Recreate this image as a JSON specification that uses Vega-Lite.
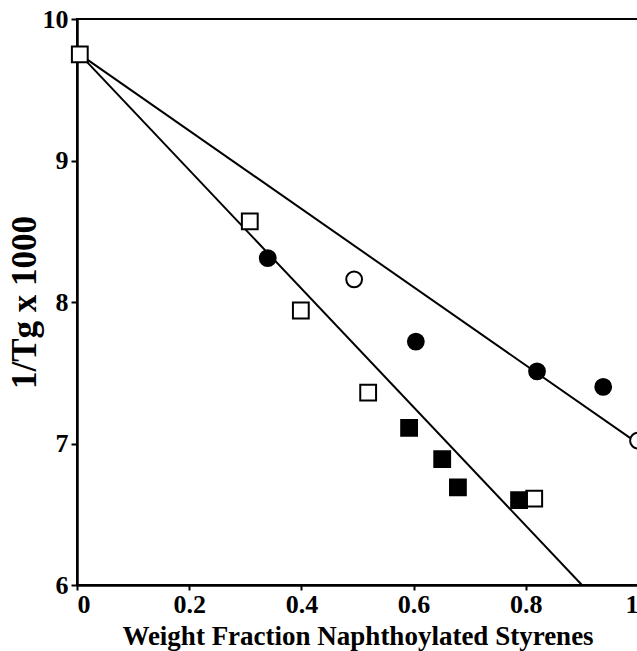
{
  "$schema": "https://vega.github.io/schema/vega-lite/v6.json",
  "autosize": "none",
  "padding": {"left": 77, "top": 19, "right": 0, "bottom": 66},
  "width": 561,
  "height": 566,
  "background": "white",
  "config": {
    "view": {"stroke": "black", "strokeWidth": 2},
    "font": "Liberation Serif",
    "axis": {
      "domainColor": "black", "domainWidth": 2.5, "tickColor": "black", "tickWidth": 2,
      "labelFont": "Liberation Serif", "labelFontWeight": "bold", "labelColor": "black",
      "titleFont": "Liberation Serif", "titleFontWeight": "bold", "titleColor": "black",
      "grid": false
    }
  },
  "datasets": {
    "pts": [
      {"x": 0.005, "y": 9.75, "series": "open square"},
      {"x": 0.308, "y": 8.57, "series": "open square"},
      {"x": 0.399, "y": 7.94, "series": "open square"},
      {"x": 0.519, "y": 7.36, "series": "open square"},
      {"x": 0.815, "y": 6.61, "series": "open square"},
      {"x": 0.340, "y": 8.31, "series": "filled circle"},
      {"x": 0.604, "y": 7.72, "series": "filled circle"},
      {"x": 0.820, "y": 7.51, "series": "filled circle"},
      {"x": 0.938, "y": 7.40, "series": "filled circle"},
      {"x": 0.494, "y": 8.16, "series": "open circle"},
      {"x": 1.0, "y": 7.02, "series": "open circle"},
      {"x": 0.592, "y": 7.11, "series": "filled square"},
      {"x": 0.651, "y": 6.89, "series": "filled square"},
      {"x": 0.679, "y": 6.69, "series": "filled square"},
      {"x": 0.788, "y": 6.60, "series": "filled square"}
    ],
    "lines": [
      {"x": 0.005, "y": 9.75, "line": "upper"},
      {"x": 1.0, "y": 7.0, "line": "upper"},
      {"x": 0.005, "y": 9.75, "line": "lower"},
      {"x": 0.9, "y": 6.0, "line": "lower"}
    ]
  },
  "layer": [
    {
      "data": {"name": "lines"},
      "mark": {"type": "line", "color": "black", "strokeWidth": 2, "clip": true},
      "encoding": {
        "x": {"field": "x", "type": "quantitative", "scale": {"domain": [0, 1], "nice": false},
          "axis": {"values": [0, 0.2, 0.4, 0.6, 0.8, 1], "format": "~g", "labelFontSize": 26, "labelPadding": 1, "tickSize": 5,
            "title": "Weight Fraction Naphthoylated Styrenes", "titleFontSize": 27, "titlePadding": 6}},
        "y": {"field": "y", "type": "quantitative", "scale": {"domain": [6, 10], "nice": false, "zero": false},
          "axis": {"values": [6, 7, 8, 9, 10], "format": "d", "labelFontSize": 26, "labelPadding": 3, "tickSize": 6,
            "title": "1/Tg x 1000", "titleFontSize": 35, "titlePadding": 0}},
        "detail": {"field": "line"}
      }
    },
    {
      "data": {"name": "pts"},
      "mark": {"type": "point", "size": 250, "strokeWidth": 2, "opacity": 1, "stroke": "black"},
      "encoding": {
        "x": {"field": "x", "type": "quantitative"},
        "y": {"field": "y", "type": "quantitative"},
        "shape": {"field": "series", "type": "nominal",
          "scale": {"domain": ["open square", "filled square", "open circle", "filled circle"], "range": ["square", "square", "circle", "circle"]},
          "legend": null},
        "fill": {"field": "series", "type": "nominal",
          "scale": {"domain": ["open square", "filled square", "open circle", "filled circle"], "range": ["white", "black", "white", "black"]},
          "legend": null}
      }
    }
  ]
}
